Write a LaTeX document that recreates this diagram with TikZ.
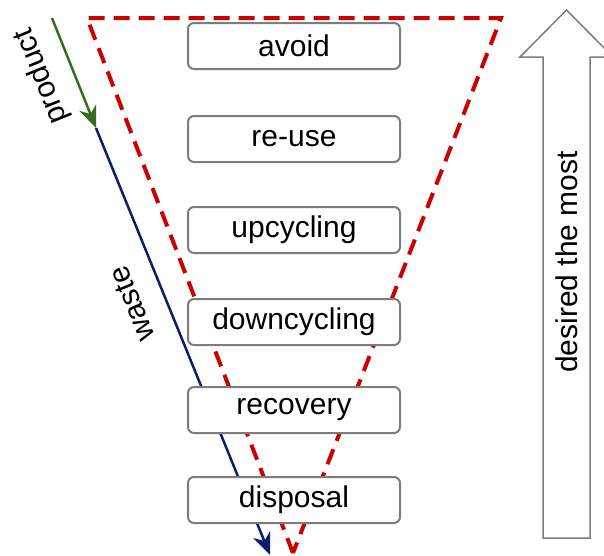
\documentclass[tikz,border=0pt]{standalone}
\usepackage{fontspec}
\setmainfont{Liberation Sans}
\usetikzlibrary{arrows.meta}
\definecolor{tri}{RGB}{205,0,0}
\definecolor{prodgreen}{RGB}{50,110,30}
\definecolor{wastenavy}{RGB}{10,30,110}
\definecolor{boxgray}{RGB}{125,125,125}
\tikzset{
  stagebox/.style={draw=boxgray, line width=2pt, fill=white, rounded corners=6pt,
    minimum width=212pt, minimum height=46pt, inner sep=0pt, font=\fontsize{30}{33}\selectfont},
  tridash/.style={draw=tri, line width=4pt, dash pattern=on 16pt off 9pt, line join=miter},
  flowlbl/.style={font=\fontsize{30}{33}\selectfont, rotate=112, inner sep=0pt},
  tip/.style={-{Stealth[length=22pt,width=18pt,inset=7pt]}}
}
\begin{document}
\begin{tikzpicture}[x=1pt,y=-1pt]
\clip (0,0) rectangle (604,555);
\useasboundingbox (0,0) rectangle (604,555);
\fill[white] (0,0) rectangle (604,555);
% triangle
\coordinate (tl) at (87,18);
\coordinate (tr) at (501,18);
\coordinate (bt) at (293,553);
\draw[tridash] (bt) -- (tl) -- (tr) -- (bt);
% product / waste arrows
\coordinate (ps) at (52,18);
\coordinate (pe) at (96,128);
\coordinate (we) at (270,555);
\draw[prodgreen, line width=2.5pt, tip] (ps) -- (pe);
\draw[wastenavy, line width=2.5pt, tip] (pe) -- (we);
\node[flowlbl] (product) at (42,76) {product};
\node[flowlbl] (waste) at (132,304) {waste};
% boxes
\node[stagebox] (avoid) at (294,46) {avoid};
\node[stagebox] (reuse) at (294,139) {re-use};
\node[stagebox] (upcycling) at (294,230) {upcycling};
\node[stagebox] (downcycling) at (294,322) {downcycling};
\node[stagebox] (recovery) at (294,410) {recovery};
\node[stagebox] (disposal) at (294,500) {disposal};
% big arrow
\draw[boxgray, line width=1.5pt, fill=white, line join=miter]
  (543,538) -- (543,57) -- (520,57) -- (566.5,10) -- (613,57) -- (590,57) -- (590,538) -- cycle;
\node[font=\fontsize{30}{33}\selectfont, rotate=90, inner sep=0pt] (desired) at (566.5,262) {desired the most};
\end{tikzpicture}
\end{document}
